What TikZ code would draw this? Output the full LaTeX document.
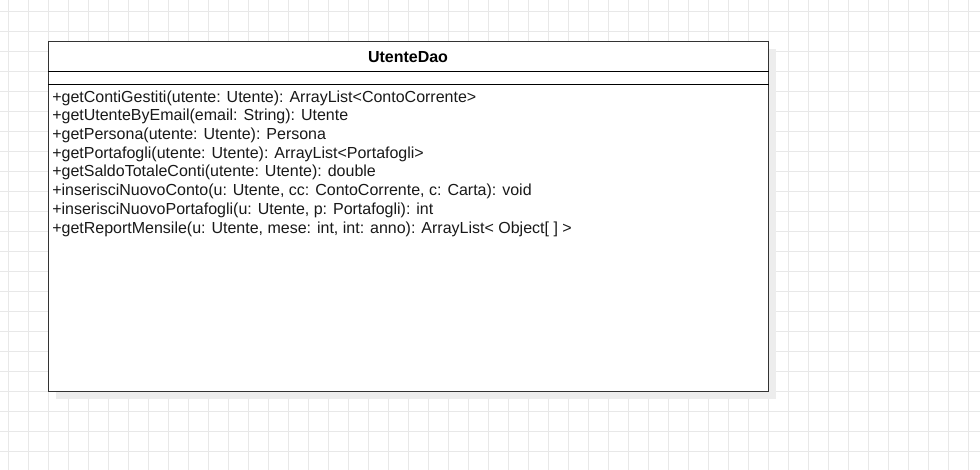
\documentclass[tikz,border=0pt]{standalone}
\usepackage{fontspec}
\setmainfont{Liberation Sans}
\begin{document}
\begin{tikzpicture}[x=0.75pt, y=-0.75pt,
        gridline/.style={draw=black!9, line width=0.75pt},
        method/.style={anchor=west, inner sep=0pt, text=black!90, font=\fontsize{12}{14}\selectfont}]
        \useasboundingbox (0,0) rectangle (980,470);
        \fill[white] (0,0) rectangle (980,470);

        \foreach \x in {8,28,...,968}
        {
            \draw[gridline] (\x,0) -- (\x,470);
        }
        \foreach \y in {11.7,31.7,...,470}
        {
            \draw[gridline] (0,\y) -- (980,\y);
        }

        \fill[black!7] (56,49) rectangle (776,399);
        \node[draw=black!80, fill=white, line width=0.75pt, inner sep=0pt, anchor=north west,
            minimum width=540pt, minimum height=262.5pt] (box) at (48,41) {};
        \node[font=\bfseries\fontsize{12}{14}\selectfont] (title) at (408,57) {UtenteDao};
        \draw[line width=0.75pt] (box.west |- 0,72) -- (box.east |- 0,72);
        \draw[line width=0.75pt] (box.west |- 0,84.5) -- (box.east |- 0,84.5);

        \foreach \i/\txt in {
            1/{+getContiGestiti(utente: Utente): ArrayList<ContoCorrente>},
            2/{+getUtenteByEmail(email: String): Utente},
            3/{+getPersona(utente: Utente): Persona},
            4/{+getPortafogli(utente: Utente): ArrayList<Portafogli>},
            5/{+getSaldoTotaleConti(utente: Utente): double},
            6/{+inserisciNuovoConto(u: Utente, cc: ContoCorrente, c: Carta): void},
            7/{+inserisciNuovoPortafogli(u: Utente, p: Portafogli): int},
            8/{+getReportMensile(u: Utente, mese: int, int: anno): ArrayList< Object[ ] >}}
        {
            \node[method] (m\i) at (52,{98+18.7*(\i-1)}) {\txt};
        }
    \end{tikzpicture}
\end{document}
